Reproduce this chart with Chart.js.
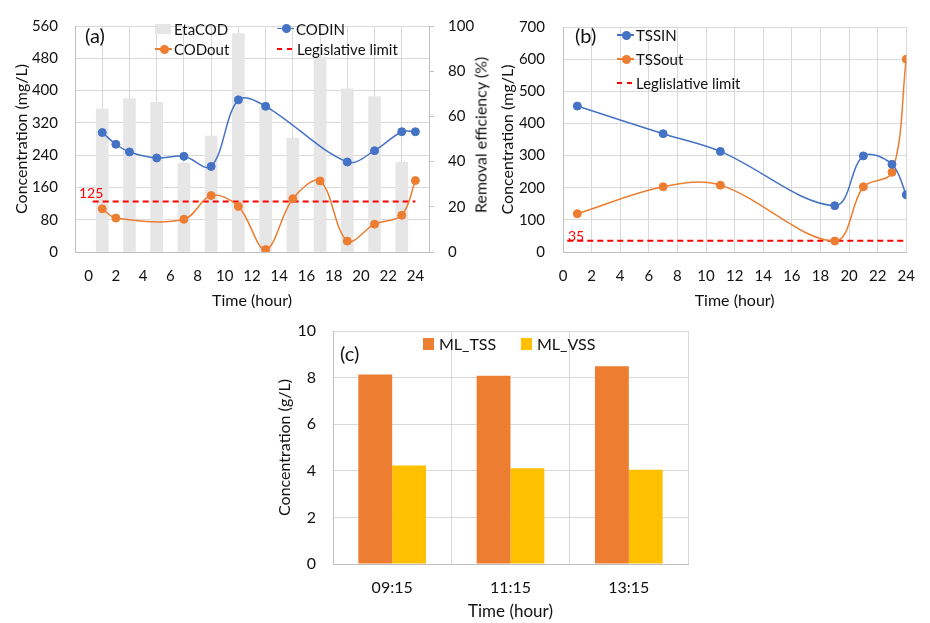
<!DOCTYPE html>
<html>
<head>
<meta charset="utf-8">
<title>COD and TSS profiles</title>
<script src="https://cdn.jsdelivr.net/npm/chart.js@4.4.1/dist/chart.umd.min.js"></script>
<style>
  html, body { margin: 0; padding: 0; background: #fff; }
  #wrap { position: relative; width: 930px; height: 623px; overflow: hidden; font-family: Lato, sans-serif; color: #111; }
  #wrap canvas { position: absolute; left: 0; top: 0; }
  .txt { position: absolute; white-space: nowrap; font-size: 15px; line-height: 18px; }
  .panel { font-size: 20px; line-height: 22px; }
  .limit { color: #ff0000; font-size: 14px; line-height: 16px; }
  .sw { position: absolute; }
  .vtitle { position: absolute; white-space: nowrap; font-size: 16px; line-height: 19px; transform: translate(-50%, -50%) rotate(-90deg); }
</style>
</head>
<body>
<div id="wrap">
  <canvas id="chartA" width="930" height="623"></canvas>
  <canvas id="chartB" width="930" height="623"></canvas>
  <canvas id="chartC" width="930" height="623"></canvas>
</div>
<script>
// (a) COD
const codInHours = [1, 2, 3, 5, 7, 9, 11, 13, 19, 21, 23, 24];
const codIn = [296, 267, 248, 233, 237, 212, 377, 361, 223, 251, 298, 298];
const codOutHours = [1, 2, 7, 9, 11, 13, 15, 17, 19, 21, 23, 24];
const codOut = [107, 84, 81, 140, 113, 6, 132, 176, 27, 69, 91, 177];
const etaHours = [1, 3, 5, 7, 9, 11, 13, 15, 17, 19, 21, 23];
const etaCod = [63.2, 67.9, 66.2, 39.3, 51.3, 96.6, 64.2, 50.4, 86.3, 72.2, 68.8, 39.7];
const codLimit = 125;

// (b) TSS
const tssHours = [1, 7, 11, 19, 21, 23, 24];
const tssIn = [454, 368, 313, 144, 299, 273, 178];
const tssOut = [119, 203, 208, 34, 203, 248, 600];
const tssLimit = 35;

const limitHours = [0.3, 24];

// (c) mixed liquor
const mlTimes = ['09:15', '11:15', '13:15'];
const mlTss = [8.13, 8.08, 8.49];
const mlVss = [4.23, 4.11, 4.04];

const blue = '#4472C4';
const orange = '#ED7D31';
const yellow = '#FFC000';
const red = '#FF0000';
const barGray = '#E7E6E6';
const gridColor = '#D9D9D9';
const axisColor = '#BFBFBF';

Chart.defaults.font.family = 'Lato';
Chart.defaults.font.size = 15;
Chart.defaults.color = '#111';

function pairs(xs, ys) {
    return xs.map(function (x, i) { return { x: x, y: ys[i] }; });
}

function fixSize(w, h) {
    return function (scale) {
        if (w) scale.width = w;
        if (h) scale.height = h;
    };
}

function lineSet(label, xs, ys, color) {
    return {
        label: label,
        data: pairs(xs, ys),
        borderColor: color,
        backgroundColor: color,
        borderWidth: 1.5,
        pointRadius: 4,
        pointBorderWidth: 1,
        pointBorderColor: color,
        pointBackgroundColor: color,
        tension: 0.35,
        order: 1
    };
}

function limitSet(label, value) {
    return {
        label: label,
        data: pairs(limitHours, [value, value]),
        borderColor: red,
        borderWidth: 2,
        borderDash: [6, 4],
        pointRadius: 0,
        tension: 0,
        order: 2
    };
}

function hourAxis(sizeTitle) {
    return {
        type: 'linear',
        min: 0,
        max: 24,
        ticks: { stepSize: 2, padding: 15 },
        grid: { color: gridColor, drawTicks: false },
        border: { color: axisColor },
        title: { display: true, text: 'Time (hour)', font: { size: sizeTitle }, padding: { top: 0, bottom: 2 } },
        afterFit: fixSize(0, 60)
    };
}

const common = {
    responsive: false,
    animation: false,
    devicePixelRatio: 1,
    plugins: { legend: { display: false }, tooltip: { enabled: false } }
};

new Chart(document.getElementById('chartA'), {
    type: 'line',
    data: {
        datasets: [
            { type: 'bar', label: 'EtaCOD', data: pairs(etaHours, etaCod), yAxisID: 'y2', backgroundColor: barGray, barThickness: 12, order: 3 },
            lineSet('CODIN', codInHours, codIn, blue),
            lineSet('CODout', codOutHours, codOut, orange),
            limitSet('Legislative limit', codLimit)
        ]
    },
    options: Object.assign({}, common, {
        layout: { padding: { left: 0, top: 18, right: 451, bottom: 311 } },
        scales: {
            x: hourAxis(16),
            y: {
                min: 0, max: 560,
                ticks: { stepSize: 80, padding: 17 },
                grid: { color: gridColor, drawTicks: false },
                border: { color: axisColor },
                title: { display: true, text: 'Concentration (mg/L)', font: { size: 16 }, padding: { top: 12, bottom: 0 } },
                afterFit: fixSize(75, 0)
            },
            y2: {
                position: 'right',
                min: 0, max: 100,
                ticks: { stepSize: 20, padding: 14 },
                grid: { drawOnChartArea: false, tickLength: 5, color: axisColor },
                border: { color: axisColor },
                afterFit: fixSize(50, 0)
            }
        }
    })
});

new Chart(document.getElementById('chartB'), {
    type: 'line',
    data: {
        datasets: [
            lineSet('TSSIN', tssHours, tssIn, blue),
            lineSet('TSSout', tssHours, tssOut, orange),
            limitSet('Leglislative limit', tssLimit)
        ]
    },
    options: Object.assign({}, common, {
        layout: { padding: { left: 480, top: 18, right: 13, bottom: 311 } },
        scales: {
            x: hourAxis(16),
            y: {
                min: 0, max: 700,
                ticks: { stepSize: 100, padding: 18 },
                grid: { color: gridColor, drawTicks: false },
                border: { color: axisColor },
                title: { display: true, text: 'Concentration (mg/L)', font: { size: 16 }, padding: { top: 18, bottom: 0 } },
                afterFit: fixSize(83, 0)
            }
        }
    })
});

new Chart(document.getElementById('chartC'), {
    type: 'bar',
    data: {
        labels: mlTimes,
        datasets: [
            { label: 'ML_TSS', data: mlTss, backgroundColor: orange, categoryPercentage: 0.572, barPercentage: 1 },
            { label: 'ML_VSS', data: mlVss, backgroundColor: yellow, categoryPercentage: 0.572, barPercentage: 1 }
        ]
    },
    options: Object.assign({}, common, {
        layout: { padding: { left: 260, top: 331, right: 242, bottom: 0 } },
        scales: {
            x: {
                ticks: { padding: 14, font: { size: 16 } },
                grid: { color: gridColor, drawTicks: false },
                border: { color: axisColor },
                title: { display: true, text: 'Time (hour)', font: { size: 17 }, padding: { top: 0, bottom: 1 } },
                afterFit: fixSize(0, 59)
            },
            y: {
                min: 0, max: 10,
                ticks: { stepSize: 2, padding: 17, font: { size: 16 } },
                grid: { color: gridColor, drawTicks: false },
                border: { color: axisColor },
                title: { display: true, text: 'Concentration (g/L)', font: { size: 16 }, padding: { top: 15, bottom: 0 } },
                afterFit: fixSize(73, 0)
            }
        }
    })
});

// legends, panel tags and labels as page text
const wrap = document.getElementById('wrap');

function addDiv(cls, css, text) {
    const d = document.createElement('div');
    d.className = cls;
    d.style.cssText = css;
    if (text) d.textContent = text;
    wrap.appendChild(d);
    return d;
}

function addLegend(kind, color, sx, tx, y, label, size) {
    if (kind === 'box') {
        addDiv('sw', 'left:' + sx + 'px;top:' + (y - size[1] / 2) + 'px;width:' + size[0] + 'px;height:' + size[1] + 'px;background:' + color + ';');
    } else if (kind === 'line') {
        addDiv('sw', 'left:' + sx + 'px;top:' + (y - 0.75) + 'px;width:17px;height:1.5px;background:' + color + ';');
        addDiv('sw', 'left:' + (sx + 4.5) + 'px;top:' + (y - 4.5) + 'px;width:9px;height:9px;border-radius:50%;background:' + color + ';');
    } else {
        addDiv('sw', 'left:' + sx + 'px;top:' + (y - 1) + 'px;width:5px;height:2px;background:' + color + ';');
        addDiv('sw', 'left:' + (sx + 10) + 'px;top:' + (y - 1) + 'px;width:5px;height:2px;background:' + color + ';');
    }
    const t = addDiv('txt', 'left:' + tx + 'px;top:' + (y - 9) + 'px;', label);
    if (size && size[2]) t.style.fontSize = size[2] + 'px';
}

addLegend('box', barGray, 155, 174, 29, 'EtaCOD', [16, 10]);
addLegend('line', blue, 277, 296, 28.5, 'CODIN');
addLegend('line', orange, 155, 174, 49, 'CODout');
addLegend('dash', red, 277, 297, 49, 'Legislative limit');

addLegend('line', blue, 617, 636, 35, 'TSSIN');
addLegend('line', orange, 617, 636, 59, 'TSSout');
addLegend('dash', red, 617, 636, 83, 'Leglislative limit');

addLegend('box', orange, 423, 439, 344, 'ML_TSS', [11, 12, 16]);
addLegend('box', yellow, 521, 537, 344, 'ML_VSS', [11, 12, 16]);

addDiv('txt panel', 'left:85px;top:24px;', '(a)');
addDiv('txt panel', 'left:575px;top:24px;', '(b)');
addDiv('txt panel', 'left:340px;top:342px;', '(c)');

addDiv('txt limit', 'left:79px;top:185px;', String(codLimit));
addDiv('txt limit', 'left:568px;top:228px;', String(tssLimit));

addDiv('vtitle', 'left:480px;top:135px;', 'Removal efficiency (%)');
</script>
</body>
</html>
